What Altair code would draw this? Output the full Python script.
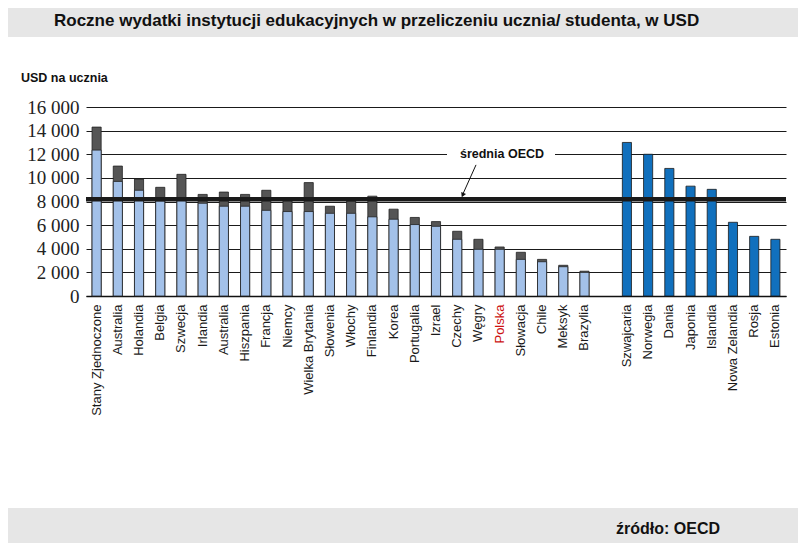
import altair as alt
import pandas as pd

# ---- data ----
left_countries = ["Stany Zjednoczone", "Australia", "Holandia", "Belgia", "Szwecja",
                  "Irlandia", "Australia\u200b", "Hiszpania", "Francja", "Niemcy",
                  "Wielka Brytania", "Słowenia", "Włochy", "Finlandia", "Korea",
                  "Portugalia", "Izrael", "Czechy", "Węgry", "Polska", "Słowacja",
                  "Chile", "Meksyk", "Brazylia"]
left_lower = [12350, 9700, 8950, 8050, 8100, 7850, 7600, 7600, 7250, 7150,
              7150, 7000, 7000, 6700, 6500, 6050, 5900, 4800, 3950, 3950, 3100,
              2900, 2480, 2000]
left_total = [14300, 11000, 9900, 9200, 10300, 8600, 8800, 8600, 8950, 8150,
              9600, 7600, 8050, 8450, 7350, 6650, 6300, 5480, 4800, 4150, 3700,
              3100, 2600, 2100]
gap = [" "]
right_countries = ["Szwajcaria", "Norwegia", "Dania", "Japonia", "Islandia",
                   "Nowa Zelandia", "Rosja", "Estonia"]
right_total = [13000, 12000, 10800, 9300, 9030, 6240, 5050, 4800]
oecd_avg = 8200
y_ticks = [0, 2000, 4000, 6000, 8000, 10000, 12000, 14000, 16000]

title_text = "Roczne wydatki instytucji edukacyjnych w przeliczeniu ucznia/ studenta, w USD"
y_title = "USD na ucznia"
source_text = "źródło: OECD"
avg_label = "średnia OECD"

domain = left_countries + gap + right_countries

left_df = pd.DataFrame({"kraj": left_countries, "dolna": left_lower, "suma": left_total})
right_df = pd.DataFrame({"kraj": right_countries, "suma": right_total})

W, H = 700, 189
FONT = "Liberation Sans"
SERIF = "serif"

xscale = alt.Scale(domain=domain, paddingInner=0.57, paddingOuter=0.285)
yscale = alt.Scale(domain=[0, 16000], nice=False)

x_axis = alt.Axis(
    title=None, labelAngle=-90, labelFont=FONT, labelFontSize=13,
    labelColor={"condition": {"test": "datum.label === 'Polska'", "value": "#cc1111"},
                "value": "#1a1a1a"},
    labelPadding=8, ticks=False, domain=True, domainColor="#111", domainWidth=1.5,
    grid=False, labelOverlap=False,
)
y_axis = alt.Axis(
    title=None, values=y_ticks, labelFont=SERIF,
    labelFontSize=19, labelColor="#222", labelPadding=7, ticks=False, domain=False, grid=True,
    gridColor="#1a1a1a", gridWidth=1, gridOpacity=1, labelOverlap=False,
    labelExpr="replace(format(datum.value, ','), ',', ' ')",
)

one = pd.DataFrame({"a": [0]})

# decorative bands (title + footer)
title_band = alt.Chart(one).mark_rect(color="#e6e6e6").encode(
    x=alt.value(-78), x2=alt.value(712), y=alt.value(-99), y2=alt.value(-70))
foot_band = alt.Chart(one).mark_rect(color="#e6e6e6").encode(
    x=alt.value(-78), x2=alt.value(712), y=alt.value(401), y2=alt.value(436))
title = alt.Chart(one).mark_text(text=title_text, font=FONT, fontSize=17, fontWeight="bold",
                                 align="left", baseline="middle", color="#111").encode(
    x=alt.value(-32), y=alt.value(-86))
source = alt.Chart(one).mark_text(text=source_text, font=FONT, fontSize=16, fontWeight="bold",
                                  align="left", baseline="middle", color="#111").encode(
    x=alt.value(530), y=alt.value(422))
ytitle = alt.Chart(one).mark_text(text=y_title, font=FONT, fontSize=12.5, fontWeight="bold",
                                  align="left", baseline="middle", color="#111").encode(
    x=alt.value(-65), y=alt.value(-29))

dark = alt.Chart(left_df).mark_bar(color="#555555", stroke="#222", strokeWidth=0.8).encode(
    x=alt.X("kraj:N", scale=xscale, axis=x_axis, sort=None),
    y=alt.Y("suma:Q", scale=yscale, axis=y_axis),
)
light = alt.Chart(left_df).mark_bar(color="#a3c1e9", stroke="#222", strokeWidth=0.8).encode(
    x=alt.X("kraj:N", scale=xscale, sort=None, axis=x_axis),
    y=alt.Y("dolna:Q", scale=yscale, axis=y_axis),
)
blue = alt.Chart(right_df).mark_bar(color="#1170bd", stroke="#1a1a1a", strokeWidth=0.8).encode(
    x=alt.X("kraj:N", scale=xscale, sort=None, axis=x_axis),
    y=alt.Y("suma:Q", scale=yscale, axis=y_axis),
)
avg = alt.Chart(pd.DataFrame({"v": [oecd_avg]})).mark_rule(color="#1a1a1a", strokeWidth=4.5).encode(
    y=alt.Y("v:Q", scale=yscale, axis=y_axis))

lab_bg = alt.Chart(one).mark_rect(color="white").encode(
    x=alt.value(361), x2=alt.value(469), y=alt.datum(11500, scale=yscale, axis=y_axis), y2=alt.datum(12500))
lab = alt.Chart(one).mark_text(text=avg_label, font=FONT, fontSize=12.5, fontWeight="bold",
                               align="center", baseline="middle", color="#111").encode(
    x=alt.value(416), y=alt.datum(12000, scale=yscale, axis=y_axis))
arrow = alt.Chart(one).mark_rule(color="#111", strokeWidth=1).encode(
    x=alt.value(390), x2=alt.value(377), y=alt.datum(11100, scale=yscale, axis=y_axis), y2=alt.datum(8650))
head = alt.Chart(one).mark_point(shape="triangle", filled=True, color="#111", size=28,
                                 angle=204, opacity=1).encode(
    x=alt.value(377), y=alt.datum(8600, scale=yscale, axis=y_axis))

chart = alt.layer(
    title_band, foot_band, title, source, ytitle,
    dark, light, blue, avg, lab_bg, lab, arrow, head,
).properties(
    width=W, height=H,
    background="white",
    autosize=alt.AutoSizeParams(type="none"),
    padding={"left": 78, "top": 99, "right": 12, "bottom": 247},
).configure_view(stroke=None)

chart.save("out.html", embed_options={"renderer": "svg", "actions": False})
